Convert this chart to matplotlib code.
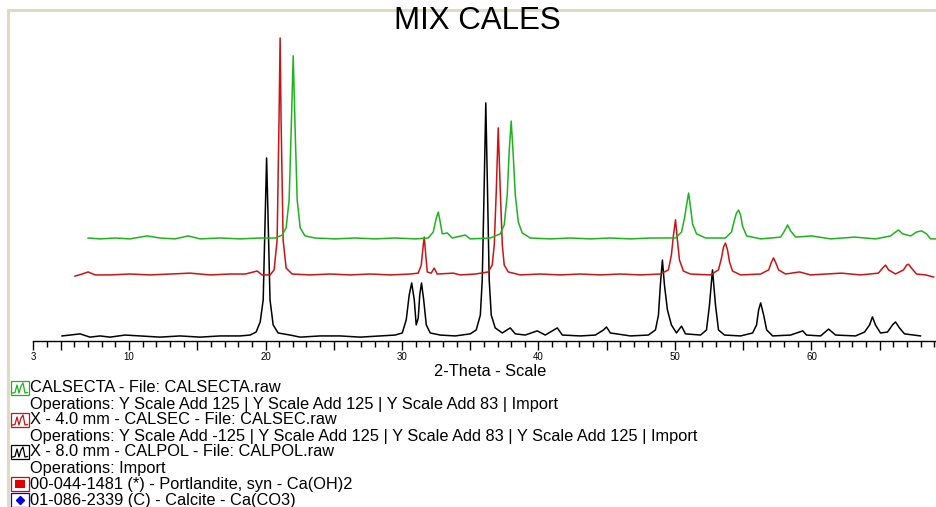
import numpy as np
import matplotlib
matplotlib.use('Agg')
import matplotlib.pyplot as plt
from matplotlib.ticker import FixedLocator, FuncFormatter, MultipleLocator
from matplotlib.patches import Rectangle

plt.rcParams['font.family'] = ['Liberation Sans', 'DejaVu Sans']

# ─────────────────────────────────────────
# TRACES (2-theta, counts before Y offset)
# ─────────────────────────────────────────

# X - 8.0 mm - CALPOL (black)
CALPOL_X = [5.09, 5.68, 6.41, 7.14, 7.88, 8.61, 9.71, 10.81, 12.27, 13.74, 15.21, 16.67,
            18.14, 18.87, 19.31, 19.61, 19.83, 19.97, 20.08, 20.19, 20.33, 20.56, 20.92,
            21.80, 22.54, 24.00, 25.47, 26.94, 28.40, 29.50, 30.02, 30.31, 30.53, 30.71,
            30.90, 31.04, 31.19, 31.30, 31.43, 31.59, 31.78, 32.07, 32.80, 33.90, 35.00,
            35.44, 35.74, 35.88, 36.03, 36.14, 36.25, 36.39, 36.54, 36.83, 37.35, 37.93,
            38.30, 39.03, 39.91, 40.50, 41.38, 41.75, 43.07, 44.17, 44.76, 44.98, 45.27,
            46.74, 48.05, 48.57, 48.79, 48.93, 49.08, 49.23, 49.45, 49.74, 50.11, 50.48,
            50.77, 51.87, 52.31, 52.53, 52.75, 52.97, 53.19, 53.63, 54.81, 55.69, 55.98,
            56.13, 56.28, 56.50, 56.72, 57.16, 58.48, 59.36, 59.64, 60.67, 61.26, 61.77,
            63.23, 63.89, 64.26, 64.47, 64.69, 65.06, 65.57, 65.94, 66.16, 66.45, 66.82,
            67.99]
CALPOL_Y = [17, 20, 24, 13, 17, 13, 20, 17, 13, 17, 13, 17,
            17, 20, 30, 64, 138, 407, 615, 407, 138, 54, 27,
            20, 13, 17, 17, 13, 17, 20, 27, 71, 155, 195,
            138, 54, 77, 155, 195, 138, 54, 27, 20, 17, 24,
            37, 87, 205, 541, 800, 541, 205, 87, 44, 27, 44,
            24, 20, 34, 20, 44, 20, 17, 20, 37, 47, 27,
            17, 20, 37, 87, 188, 272, 188, 104, 54, 27, 50,
            24, 20, 37, 121, 239, 121, 37, 20, 17, 27, 54,
            104, 128, 87, 37, 17, 20, 34, 20, 17, 40, 20,
            17, 30, 54, 81, 54, 27, 30, 54, 64, 44, 24,
            17]

# X - 4.0 mm - CALSEC (red)
CALSEC_X = [6.04, 6.56, 7.00, 7.51, 8.61, 10.07, 11.54, 13.01, 14.47, 15.94, 17.41, 18.51,
            19.39, 19.75, 20.34, 20.63, 20.85, 20.99, 21.07, 21.14, 21.29, 21.51, 21.95,
            23.27, 24.74, 26.20, 27.67, 29.14, 30.60, 31.19, 31.41, 31.56, 31.63, 31.74,
            31.85, 32.14, 32.36, 32.58, 33.75, 34.27, 35.37, 36.32, 36.61, 36.76, 36.91,
            37.05, 37.20, 37.35, 37.49, 37.79, 38.67, 40.13, 41.60, 43.07, 44.53, 46.00,
            47.47, 48.93, 49.52, 49.74, 49.89, 50.04, 50.18, 50.33, 50.62, 51.13, 52.60,
            53.19, 53.41, 53.56, 53.70, 53.85, 54.00, 54.22, 54.81, 56.28, 56.87, 57.07,
            57.22, 57.37, 57.59, 58.10, 59.13, 59.93, 62.20, 63.59, 64.91, 65.21, 65.43,
            65.65, 66.16, 66.75, 66.97, 67.11, 67.33, 67.70, 68.36, 68.95]
CALSEC_Y = [10, 17, 24, 14, 14, 17, 14, 17, 20, 14, 17, 17,
            27, 14, 14, 31, 131, 535, 810, 535, 131, 37, 17,
            14, 17, 14, 17, 14, 17, 20, 47, 115, 141, 81,
            24, 20, 37, 17, 20, 14, 17, 24, 47, 115, 299,
            508, 299, 115, 47, 24, 14, 17, 14, 17, 14, 17,
            14, 17, 31, 81, 148, 199, 131, 64, 27, 17, 14,
            31, 71, 108, 121, 98, 57, 27, 14, 17, 31, 57,
            71, 57, 31, 17, 24, 14, 20, 14, 20, 37, 47,
            31, 17, 31, 47, 50, 37, 17, 14, 7]

# CALSECTA (green)
CALSECTA_X = [7.00, 7.88, 8.98, 10.07, 11.32, 12.27, 13.37, 14.33, 15.21, 16.67, 18.14,
              19.61, 20.71, 21.22, 21.51, 21.73, 21.88, 22.03, 22.17, 22.32, 22.54, 22.90,
              23.64, 25.10, 26.57, 28.04, 29.50, 30.97, 31.92, 32.29, 32.51, 32.66, 32.80,
              32.95, 33.32, 33.68, 34.64, 35.00, 36.47, 37.20, 37.49, 37.71, 37.86, 38.00,
              38.15, 38.30, 38.52, 38.81, 39.40, 40.86, 42.33, 43.80, 45.27, 46.74, 48.20,
              50.04, 50.48, 50.70, 50.85, 51.00, 51.14, 51.29, 51.58, 52.24, 53.70, 54.14,
              54.36, 54.51, 54.66, 54.81, 54.95, 55.25, 56.28, 57.74, 58.03, 58.25, 58.47,
              58.84, 60.01, 61.41, 63.16, 64.70, 65.80, 66.16, 66.38, 66.68, 67.27, 67.70,
              68.07, 68.43, 68.73, 69.24]
CALSECTA_Y = [13, 10, 13, 10, 20, 13, 10, 20, 10, 13, 10,
              13, 13, 23, 47, 141, 376, 625, 376, 141, 47, 20,
              13, 10, 13, 10, 13, 10, 13, 33, 80, 100, 67,
              27, 30, 13, 23, 10, 13, 27, 57, 158, 309, 406,
              292, 158, 67, 30, 13, 10, 13, 10, 13, 10, 13,
              13, 33, 80, 124, 164, 117, 60, 27, 13, 13, 33,
              74, 97, 107, 90, 53, 20, 10, 16, 37, 57, 37,
              16, 20, 10, 16, 10, 20, 33, 40, 27, 20, 33,
              37, 27, 10, 10]

# Y Scale Add operations summed per trace
OFFSETS = {'CALPOL': 0, 'CALSEC': 208, 'CALSECTA': 333}

X_TICKS = [3, 5, 10, 15, 20, 25, 30, 35, 40, 45, 50, 55, 60, 65]
X_LABELED = [3, 10, 20, 30, 40, 50, 60]

LEGEND_ROWS = [
    ('CALSECTA - File: CALSECTA.raw', 'wave', '#1db31d'),
    ('Operations: Y Scale Add 125 | Y Scale Add 125 | Y Scale Add 83 | Import', None, None),
    ('X - 4.0 mm - CALSEC - File: CALSEC.raw', 'wave', '#c81414'),
    ('Operations: Y Scale Add -125 | Y Scale Add 125 | Y Scale Add 83 | Y Scale Add 125 | Import', None, None),
    ('X - 8.0 mm - CALPOL - File: CALPOL.raw', 'wave', '#000000'),
    ('Operations: Import', None, None),
    ('00-044-1481 (*) - Portlandite, syn - Ca(OH)2', 'square', '#e00000'),
    ('01-086-2339 (C) - Calcite - Ca(CO3)', 'diamond', '#0000e0'),
]

W, H = 937, 507
fig = plt.figure(figsize=(W / 100, H / 100), dpi=100)
fig.patch.set_facecolor('white')

ax = fig.add_axes([33.5 / W, 166 / H, 1 - 33.5 / W, 331 / H])
ax.plot(CALPOL_X, np.array(CALPOL_Y) + OFFSETS['CALPOL'], color='black', lw=1.1)
ax.plot(CALSEC_X, np.array(CALSEC_Y) + OFFSETS['CALSEC'], color='#c81414', lw=1.1)
ax.plot(CALSECTA_X, np.array(CALSECTA_Y) + OFFSETS['CALSECTA'], color='#1db31d', lw=1.1)

ax.set_xlim(3, 69.2)
ax.set_ylim(0, 1112)
for s in ['top', 'right', 'left']:
    ax.spines[s].set_visible(False)
ax.spines['bottom'].set_linewidth(1.0)
ax.set_yticks([])
ax.xaxis.set_major_locator(FixedLocator(X_TICKS))
ax.xaxis.set_minor_locator(MultipleLocator(1))
ax.xaxis.set_major_formatter(FuncFormatter(
    lambda v, p: f'{int(v)}' if int(round(v)) in X_LABELED else ''))
ax.tick_params(axis='x', which='major', length=6.5, width=1, direction='out',
               labelsize=7, pad=1.5, colors='black')
ax.tick_params(axis='x', which='minor', length=4, width=1, direction='out')
ax.patch.set_alpha(0)

# overlay in pixel coordinates for frame, titles and legend
ov = fig.add_axes([0, 0, 1, 1], zorder=-1)
ov.set_xlim(0, W)
ov.set_ylim(H, 0)
ov.axis('off')
ov2 = fig.add_axes([0, 0, 1, 1], zorder=5)
ov2.set_xlim(0, W)
ov2.set_ylim(H, 0)
ov2.axis('off')

frame_col = '#dedac4'
ov.plot([8, W], [9.5, 9.5], color=frame_col, lw=2.2)
ov.plot([8.5, 8.5], [9.5, H], color=frame_col, lw=2.2)

ov2.text(477, 21, 'MIX CALES', ha='center', va='center', fontsize=22.5)
ov2.text(490, 371, '2-Theta - Scale', ha='center', va='center', fontsize=11.8)

y0 = 388
for i, (label, icon, col) in enumerate(LEGEND_ROWS):
    yy = y0 + 16 * i
    ov2.text(30.5, yy, label, ha='left', va='center', fontsize=11.8)
    if icon == 'wave':
        ov2.add_patch(Rectangle((11, yy - 7), 18, 14, fill=False, ec=col, lw=0.9))
        ov2.plot([12.5, 15, 17, 19, 21, 23, 25, 27.5],
                 [yy + 5, yy + 4.5, yy - 3, yy + 5, yy - 2, yy - 5, yy + 5, yy + 4.5],
                 color=col, lw=0.9)
    elif icon == 'square':
        ov2.add_patch(Rectangle((11, yy - 7), 18, 14, fill=False, ec=col, lw=0.9))
        ov2.add_patch(Rectangle((15, yy - 4), 10, 8, fc=col, ec='none'))
    elif icon == 'diamond':
        ov2.add_patch(Rectangle((11, yy - 7), 18, 14, fill=False, ec=col, lw=0.9))
        ov2.plot([20], [yy], marker='D', ms=4.5, color=col)

fig.savefig('out.png', dpi=100)
